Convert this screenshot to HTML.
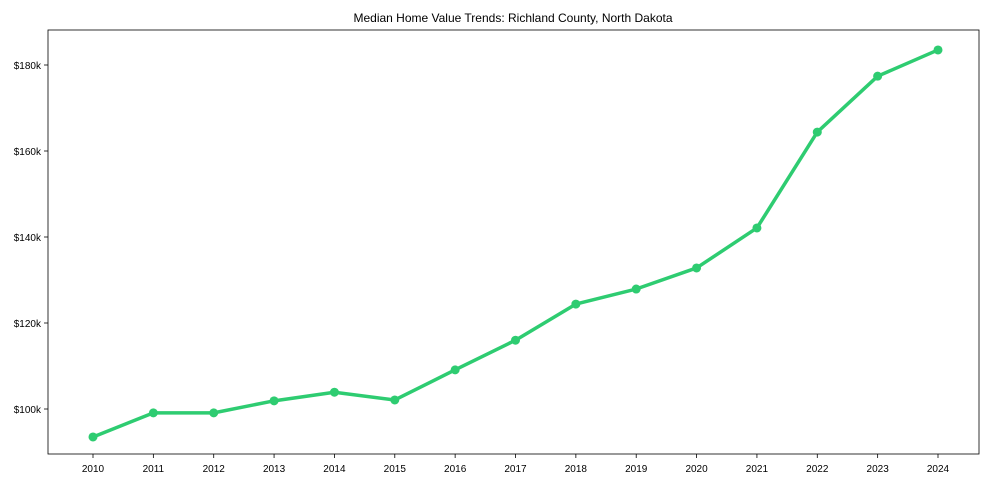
<!DOCTYPE html>
<html><head><meta charset="utf-8"><style>
body{margin:0;background:#fff;}
svg text{font-family:"Liberation Sans",Arial,sans-serif;fill:#000;}
</style></head><body>
<svg id="chart" width="989" height="490" viewBox="0 0 989 490" xmlns="http://www.w3.org/2000/svg">
<rect x="48" y="30" width="931" height="424" fill="#fff" stroke="#000" stroke-width="0.8"/>
<text x="513" y="22" font-size="12" text-anchor="middle">Median Home Value Trends: Richland County, North Dakota</text>
<g id="axes"></g>
<g id="series"></g>
</svg>
<script>
const years = [2010,2011,2012,2013,2014,2015,2016,2017,2018,2019,2020,2021,2022,2023,2024];
const values = [93.5,99.1,99.1,101.9,103.9,102.1,109.1,116.0,124.4,127.9,132.8,142.1,164.4,177.4,183.5];
const yTicks = [100,120,140,160,180];
const yTickLabels = ["$100k","$120k","$140k","$160k","$180k"];

const NS="http://www.w3.org/2000/svg";
const x0=93, xStep=(938-93)/14;
function xs(i){return x0+i*xStep;}
function ys(v){return 409-(v-100)*4.3;}
const axes=document.getElementById('axes');
const series=document.getElementById('series');
function mk(tag,attrs,parent){const e=document.createElementNS(NS,tag);for(const k in attrs)e.setAttribute(k,attrs[k]);parent.appendChild(e);return e;}

years.forEach((y,i)=>{
  const t=mk('line',{x1:xs(i),x2:xs(i),y1:454,y2:458,stroke:'#000','stroke-width':0.8},axes);
  
  
  const l=mk('text',{x:xs(i),y:472,'font-size':10,'text-anchor':'middle'},axes);
  l.textContent=y;
  
  
});
yTicks.forEach((v,i)=>{
  const t=mk('line',{x1:44,x2:48,y1:ys(v),y2:ys(v),stroke:'#000','stroke-width':0.8},axes);
  
  
  const l=mk('text',{x:41,y:ys(v)+4,'font-size':10,'text-anchor':'end'},axes);
  l.textContent=yTickLabels[i];
  
  
});
const pts=values.map((v,i)=>xs(i)+','+ys(v)).join(' ');
const line=mk('polyline',{points:pts,fill:'none',stroke:'#2ecc71','stroke-width':3.5,'stroke-linejoin':'round','stroke-linecap':'round'},series);


values.forEach((v,i)=>{
  const c=mk('circle',{cx:xs(i),cy:ys(v),r:4.5,fill:'#2ecc71'},series);
  
  
});
</script>
</body></html>
